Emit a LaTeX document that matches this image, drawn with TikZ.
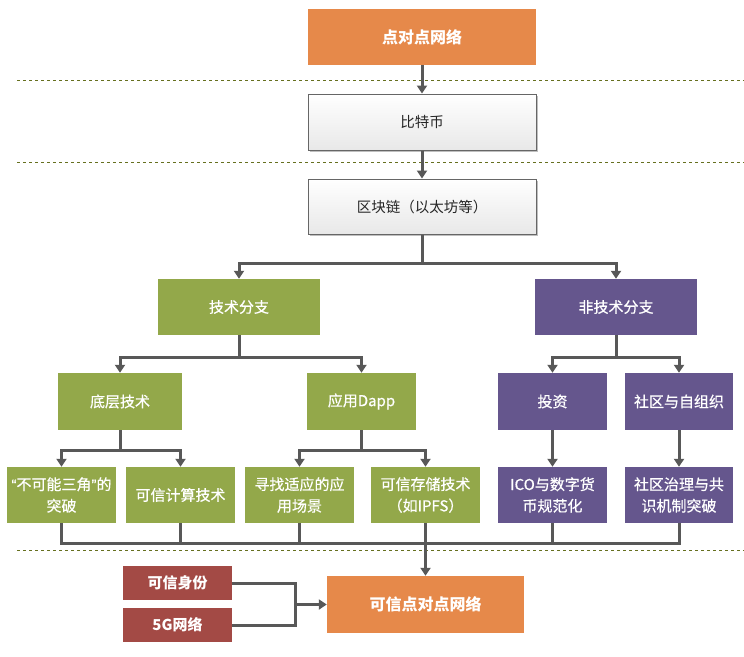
\documentclass[tikz,border=0pt]{standalone}
\usepackage{fontspec}
\setmainfont{Noto Sans CJK SC}
\newfontfamily\medfont[FakeBold=0.6]{Noto Sans CJK SC}
\newfontfamily\quotefont[FakeBold=0.6]{Liberation Sans}
\usetikzlibrary{arrows.meta,shadows}
\definecolor{orangeC}{HTML}{E6894A}
\definecolor{greenC}{HTML}{93A84A}
\definecolor{purpleC}{HTML}{65568D}
\definecolor{redC}{HTML}{A34A45}
\definecolor{lineC}{HTML}{585858}
\definecolor{dashC}{HTML}{66701F}
\definecolor{grayB}{HTML}{666666}
\tikzset{
  box/.style={rectangle, inner sep=2pt, align=center, font=\fontsize{15}{21.5}\selectfont\medfont, text=white},
  orangebox/.style={box, fill=orangeC, font=\fontsize{16}{21.5}\selectfont\bfseries, minimum width=228pt, minimum height=56pt},
  graybox/.style={box, draw=grayB, line width=1pt, top color=white, bottom color=black!9, text=black!85,
     font=\fontsize{14.5}{18}\selectfont, minimum width=228pt, minimum height=56pt,
     drop shadow={shadow xshift=1.5pt, shadow yshift=-1.5pt, opacity=0.25, fill=black}},
  greenbox/.style={box, fill=greenC},
  purplebox/.style={box, fill=purpleC},
  redbox/.style={box, fill=redC, font=\fontsize{15}{18}\selectfont\bfseries, minimum width=109pt, minimum height=34pt},
  lvtwo/.style={minimum width=162pt, minimum height=56pt},
  lvthree/.style={minimum width=109pt, minimum height=57pt},
  lvfour/.style={minimum width=109pt, minimum height=56pt},
  conn/.style={draw=lineC, line width=3pt},
  arr/.style={conn, -{Triangle[width=10pt,length=8pt]}},
  dashline/.style={draw=dashC, line width=1pt, dash pattern=on 3pt off 3pt},
}
\begin{document}
\begin{tikzpicture}[x=1pt,y=-1pt]
\useasboundingbox (0,0) rectangle (744,656);
\fill[white] (0,0) rectangle (744,656);

\draw[dashline] (17,80.5) -- (744,80.5);
\draw[dashline] (17,162.5) -- (744,162.5);
\draw[dashline] (17,550) -- (744,550);

\node[orangebox] (p2p) at (422,37) {点对点网络};
\node[graybox] (btc) at (422,122) {比特币};
\node[graybox, minimum height=55pt] (chain) at (422,206.5) {区块链（以太坊等）};

\node[greenbox, lvtwo] (tech) at (239,307) {技术分支};
\node[purplebox, lvtwo] (nontech) at (616,307) {非技术分支};

\node[greenbox, lvthree, minimum width=124pt] (base) at (120,401.5) {底层技术};
\node[greenbox, lvthree] (dapp) at (361.5,401.5) {应用Dapp};
\node[purplebox, lvthree] (invest) at (552.5,401.5) {投资};
\node[purplebox, lvthree, minimum width=108pt] (comm) at (679,401.5) {社区与自组织};

\node[greenbox, lvfour] (imp) at (61.5,495) {{\quotefont “}不可能三角{\quotefont ”}的\\突破};
\node[greenbox, lvfour] (tcomp) at (180.5,495) {可信计算技术};
\node[greenbox, lvfour] (scene) at (299.5,495) {寻找适应的应\\用场景};
\node[greenbox, lvfour] (store) at (425.5,495) {可信存储技术\\（如IPFS）};
\node[purplebox, lvfour] (ico) at (552.5,495) {ICO与数字货\\币规范化};
\node[purplebox, lvfour, minimum width=108pt] (gov) at (679,495) {社区治理与共\\识机制突破};

\node[redbox] (tid) at (177.5,583) {可信身份};
\node[redbox] (g5) at (177.5,625) {5G网络};
\node[orangebox, minimum width=197pt, minimum height=57pt] (final) at (425.5,604.5) {可信点对点网络};

\coordinate (j1) at (422,263);
\coordinate (j2) at (239,357);
\coordinate (j3) at (616,357);
\coordinate (j4) at (120,450);
\coordinate (j5) at (361.5,450);
\coordinate (mL) at (61.5,543);
\coordinate (mR) at (679,543);
\coordinate (k) at (295,604.5);

\draw[arr] (p2p) -- (btc);
\draw[arr] (btc) -- (chain);
\draw[conn] (chain.south) -- (j1);
\draw[arr] (j1) -| (tech.north);
\draw[arr] (j1) -| (nontech.north);
\draw[conn] (tech.south) -- (j2);
\draw[arr] (j2) -| (base.north);
\draw[arr] (j2) -| (dapp.north);
\draw[conn] (nontech.south) -- (j3);
\draw[arr] (j3) -| (invest.north);
\draw[arr] (j3) -| (comm.north);
\draw[conn] (base.south) -- (j4);
\draw[arr] (j4) -| (imp.north);
\draw[arr] (j4) -| (tcomp.north);
\draw[conn] (dapp.south) -- (j5);
\draw[arr] (j5) -| (scene.north);
\draw[arr] (j5) -| (store.north);
\draw[arr] (invest) -- (ico);
\draw[arr] (comm) -- (gov);

\draw[conn] (imp.south) -- (mL) -- (mR) -- (gov.south);
\draw[conn] (tcomp.south) -- (tcomp.south |- mL);
\draw[conn] (scene.south) -- (scene.south |- mL);
\draw[conn] (ico.south) -- (ico.south |- mL);
\draw[arr] (store.south) -- (final.north);

\draw[conn] (tid.east) -| (k);
\draw[conn] (g5.east) -| (k);
\draw[arr] (k) -- (final.west);
\end{tikzpicture}
\end{document}
